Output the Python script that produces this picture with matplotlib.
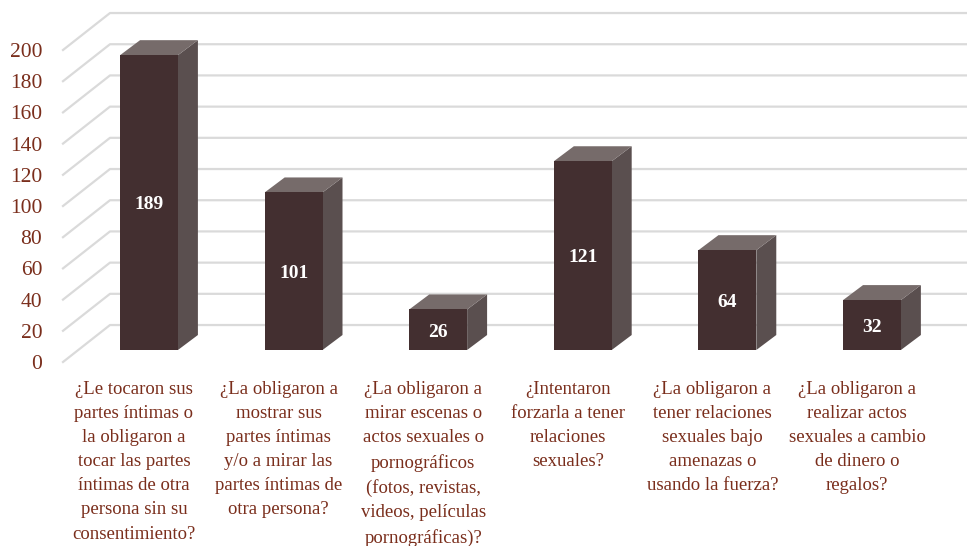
import matplotlib.pyplot as plt
from matplotlib.patches import Polygon

# data
categories = [
    "¿Le tocaron sus\npartes íntimas o\nla obligaron a\ntocar las partes\níntimas de otra\npersona sin su\nconsentimiento?",
    "¿La obligaron a\nmostrar sus\npartes íntimas\ny/o a mirar las\npartes íntimas de\notra persona?",
    "¿La obligaron a\nmirar escenas o\nactos sexuales o\npornográficos\n(fotos, revistas,\nvideos, películas\npornográficas)?",
    "¿Intentaron\nforzarla a tener\nrelaciones\nsexuales?",
    "¿La obligaron a\ntener relaciones\nsexuales bajo\namenazas o\nusando la fuerza?",
    "¿La obligaron a\nrealizar actos\nsexuales a cambio\nde dinero o\nregalos?",
]
values = [189, 101, 26, 121, 64, 32]
yticks = list(range(0, 201, 20))

# colours / style
front_col = "#432F30"
side_col = "#5A4F4F"
top_col = "#766B6A"
text_col = "#7A2E1C"
grid_col = "#DADADA"
serif = ["Liberation Serif", "DejaVu Serif"]

# fake 3d geometry (x in category units, y in value units)
wall_dx, wall_dy = 0.325, 23.7   # floor/wall depth
shift_dx, shift_dy = 0.104, 7.7  # bar front set back from front plane
bar_dx, bar_dy = 0.138, 9.6      # bar depth
bar_w = 0.40

fig = plt.figure(figsize=(9.67, 5.46), dpi=100)
ax = fig.add_axes([63 / 967, (546 - 362) / 546, 904 / 967, 312 / 546])
ax.set_xlim(-0.491, 5.761)
ax.set_ylim(0, 200)
for s in ax.spines.values():
    s.set_visible(False)
ax.set_xticks([])
ax.set_yticks(yticks)
ax.tick_params(axis="y", length=0, pad=15, labelsize=15.5, labelcolor=text_col)
for lab in ax.get_yticklabels():
    lab.set_family(serif)

x0, x1 = ax.get_xlim()
for v in yticks:
    ax.plot([x0, x0 + wall_dx, x1], [v, v + wall_dy, v + wall_dy],
            color=grid_col, lw=1.6, clip_on=False, zorder=1)

for i, v in enumerate(values):
    xl = i + shift_dx - bar_w / 2
    xr = i + shift_dx + bar_w / 2
    yb = shift_dy
    yt = shift_dy + v
    side = [(xr, yb), (xr + bar_dx, yb + bar_dy), (xr + bar_dx, yt + bar_dy), (xr, yt)]
    top = [(xl, yt), (xl + bar_dx, yt + bar_dy), (xr + bar_dx, yt + bar_dy), (xr, yt)]
    ax.add_patch(Polygon(side, closed=True, fc=side_col, ec="none", clip_on=False, zorder=3))
    ax.add_patch(Polygon(top, closed=True, fc=top_col, ec="none", clip_on=False, zorder=3))
    ax.bar(i + shift_dx, v, width=bar_w, bottom=yb, color=front_col, zorder=4, clip_on=False)
    ax.text(i + shift_dx, yb + v / 2 - 1.5, str(v), ha="center", va="center", color="white",
            fontsize=14, fontweight="bold", family=serif, zorder=5)

for i, c in enumerate(categories):
    ax.text(i, -12, c, ha="center", va="top", color=text_col, fontsize=13.5,
            family=serif, linespacing=1.55, clip_on=False)

fig.savefig("out.png", dpi=100)
